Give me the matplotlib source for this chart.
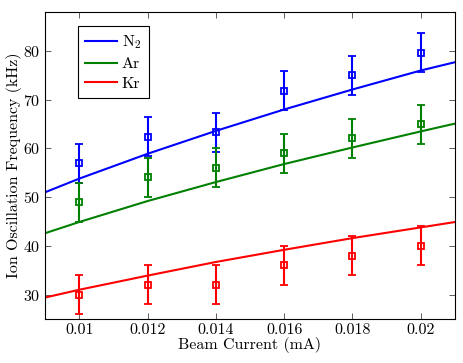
import numpy as np
import matplotlib
matplotlib.use('Agg')
import matplotlib.pyplot as plt

plt.rcParams['font.family'] = ['cmr10', 'DejaVu Serif']
plt.rcParams['mathtext.fontset'] = 'cm'
plt.rcParams['axes.formatter.use_mathtext'] = True

# measured points (beam current in mA, frequency in kHz)
current = [0.010, 0.012, 0.014, 0.016, 0.018, 0.020]
n2_freq = [57.0, 62.4, 63.3, 71.8, 75.0, 79.6]
ar_freq = [49.0, 54.1, 56.0, 59.0, 62.1, 65.0]
kr_freq = [30.0, 32.0, 32.0, 36.0, 38.0, 40.0]
n2_err = [4, 4, 4, 4, 4, 4]
ar_err = [4, 4, 4, 4, 4, 4]
kr_err = [4, 4, 4, 4, 4, 4]

# fitted curves
fit_current = [0.009, 0.010, 0.012, 0.014, 0.016, 0.018, 0.020, 0.021]
n2_fit = [51.0, 53.8, 58.9, 63.6, 68.0, 72.1, 76.0, 77.7]
ar_fit = [42.6, 44.9, 49.2, 53.1, 56.8, 60.2, 63.5, 65.1]
kr_fit = [29.4, 31.0, 33.9, 36.7, 39.2, 41.6, 43.8, 44.9]

labels = ['N$_2$', 'Ar', 'Kr']
colors = ['#0000ff', '#008000', '#ff0000']

fig = plt.figure(figsize=(4.63, 3.63), dpi=100)
ax = fig.add_axes([45 / 463, 1 - 319 / 363, 410 / 463, 307 / 363])

for freq, err, fit, lab, c in zip([n2_freq, ar_freq, kr_freq], [n2_err, ar_err, kr_err],
                                  [n2_fit, ar_fit, kr_fit], labels, colors):
    ax.plot(fit_current, fit, color=c, lw=1.5, label=lab)
    ax.errorbar(current, freq, yerr=err, fmt='s', color=c, mfc='none', mec=c,
                ms=5, mew=1.3, elinewidth=1.5, capsize=2.8, capthick=1.5)

ax.set_xlim(0.009, 0.021)
ax.set_ylim(25, 88)
ax.set_xticks(current)
ax.set_xticklabels(['0.01', '0.012', '0.014', '0.016', '0.018', '0.02'])
ax.set_yticks([30, 40, 50, 60, 70, 80])
ax.tick_params(direction='in', top=True, right=True, labelsize=11.5, length=4, width=0.6,
               color='#444444', pad=3)
for s in ax.spines.values():
    s.set_linewidth(0.8)

ax.set_xlabel('Beam Current (mA)', fontsize=11.5, labelpad=0)
ax.set_ylabel('Ion Oscillation Frequency (kHz)', fontsize=11.5, labelpad=1)

leg = ax.legend(loc='upper left', bbox_to_anchor=(0.08, 0.953), fontsize=11.5,
                handlelength=2.0, fancybox=False, framealpha=1, borderaxespad=0,
                labelspacing=0.35, handletextpad=0.3, borderpad=0.45)
leg.get_frame().set_edgecolor('black')
leg.get_frame().set_linewidth(0.8)

fig.savefig('out.png', dpi=100)
